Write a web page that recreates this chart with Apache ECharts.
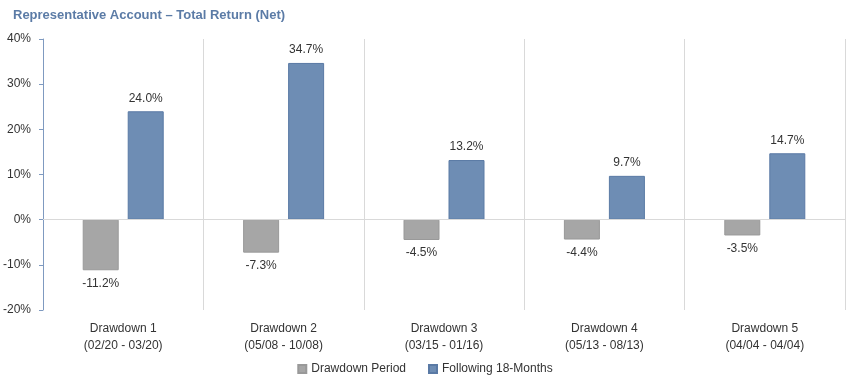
<!DOCTYPE html>
<html><head><meta charset="utf-8">
<script src="https://cdn.jsdelivr.net/npm/echarts@6/dist/echarts.min.js"></script>
<style>html,body{margin:0;padding:0;background:#fff}#c{width:850px;height:382px}</style>
</head><body><div id="c"></div>
<script>
var categories = ['Drawdown 1\n(02/20 - 03/20)','Drawdown 2\n(05/08 - 10/08)','Drawdown 3\n(03/15 - 01/16)','Drawdown 4\n(05/13 - 08/13)','Drawdown 5\n(04/04 - 04/04)'];
var drawdownPeriod = [-11.2, -7.3, -4.5, -4.4, -3.5];
var following18 = [24.0, 34.7, 13.2, 9.7, 14.7];
var seriesNames = ['Drawdown Period','Following 18-Months'];
var FONT = '"Liberation Sans Narrow","Arial Narrow","Liberation Sans",Arial,sans-serif';
var chart = echarts.init(document.getElementById('c'));
chart.setOption({
  animation:false,
  textStyle:{fontFamily:FONT},
  title:{text:'Representative Account – Total Return (Net)',left:8,top:4,
    textStyle:{fontFamily:FONT,fontSize:13,fontWeight:'bold',color:'#5b7ba6'}},
  legend:{bottom:2,left:'center',itemWidth:8,itemHeight:8,itemGap:22,icon:'rect',
    textStyle:{fontFamily:FONT,fontSize:12,color:'#333'},data:seriesNames},
  grid:{left:43,right:5,top:39,bottom:72,containLabel:false},
  xAxis:{type:'category',data:categories,
    axisLine:{onZero:false,show:false},axisTick:{show:false},
    splitLine:{show:true,lineStyle:{color:'#d9d9d9'}},
    axisLabel:{fontFamily:FONT,fontSize:12,color:'#333',lineHeight:17,margin:10,interval:0}},
  yAxis:{type:'value',min:-20,max:40,interval:10,
    axisLine:{show:true,lineStyle:{color:'#7f9ac0'}},
    axisTick:{show:true,length:4,lineStyle:{color:'#7f9ac0'}},
    splitLine:{show:false},
    axisLabel:{formatter:'{value}%',fontFamily:FONT,fontSize:12,color:'#333',margin:12}},
  series:[
    {name:seriesNames[0],type:'bar',data:drawdownPeriod,barWidth:36,barGap:'25%',
      itemStyle:{color:'#a6a6a6',borderColor:'#999',borderWidth:1},
      label:{show:true,position:'bottom',distance:7,formatter:function(p){return p.value.toFixed(1)+'%';},
        fontFamily:FONT,fontSize:12,color:'#333'},
      markLine:{silent:true,symbol:'none',label:{show:false},lineStyle:{color:'#d9d9d9',type:'solid',width:1},data:[{yAxis:0}]}},
    {name:seriesNames[1],type:'bar',data:following18,barWidth:36,
      itemStyle:{color:'#6e8db4',borderColor:'#5a7aa5',borderWidth:1},
      label:{show:true,position:'top',distance:7,formatter:function(p){return p.value.toFixed(1)+'%';},
        fontFamily:FONT,fontSize:12,color:'#333'}}
  ]
});
</script></body></html>
